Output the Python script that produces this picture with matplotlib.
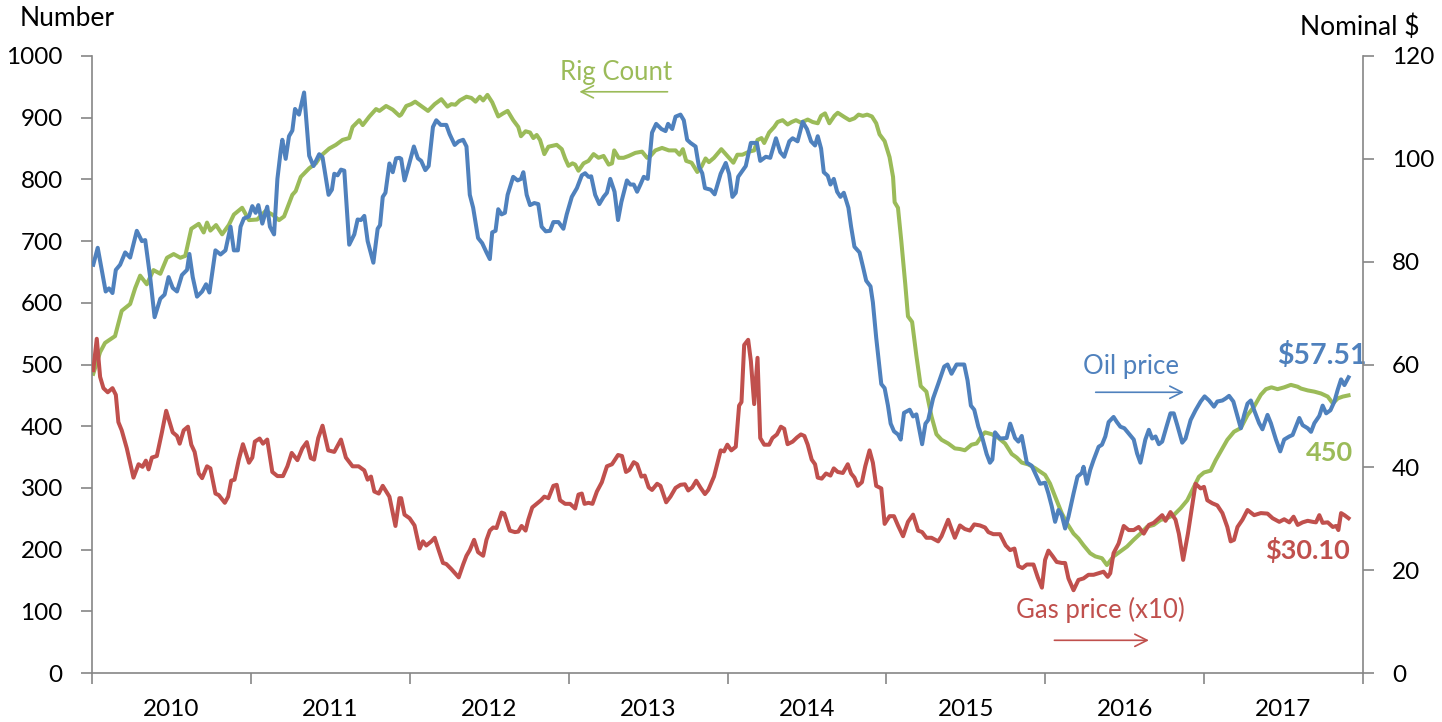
import matplotlib.pyplot as plt
from matplotlib.ticker import MultipleLocator, FixedLocator, NullFormatter

plt.rcParams['font.family'] = ['Lato', 'DejaVu Sans']

# Rig count (left axis, number)
rig_years = [
    2010.008, 2010.051, 2010.082, 2010.145, 2010.187, 2010.240, 2010.272, 2010.303, 2010.345, 2010.387,
    2010.430, 2010.472, 2010.514, 2010.556, 2010.587, 2010.625, 2010.672, 2010.703, 2010.724, 2010.745,
    2010.781, 2010.819, 2010.861, 2010.893, 2010.945, 2010.988, 2011.040, 2011.093, 2011.135, 2011.177,
    2011.209, 2011.230, 2011.261, 2011.282, 2011.314, 2011.367, 2011.409, 2011.440, 2011.493, 2011.535,
    2011.577, 2011.619, 2011.640, 2011.682, 2011.704, 2011.746, 2011.788, 2011.809, 2011.851, 2011.893,
    2011.935, 2011.946, 2011.978, 2012.009, 2012.034, 2012.072, 2012.115, 2012.157, 2012.199, 2012.237,
    2012.262, 2012.287, 2012.315, 2012.357, 2012.388, 2012.414, 2012.441, 2012.462, 2012.489, 2012.519,
    2012.557, 2012.588, 2012.616, 2012.651, 2012.683, 2012.700, 2012.729, 2012.757, 2012.778, 2012.799,
    2012.820, 2012.847, 2012.873, 2012.925, 2012.957, 2012.978, 2012.999, 2013.024, 2013.041, 2013.062,
    2013.094, 2013.125, 2013.157, 2013.188, 2013.220, 2013.252, 2013.273, 2013.287, 2013.315, 2013.346,
    2013.378, 2013.420, 2013.462, 2013.494, 2013.515, 2013.546, 2013.588, 2013.631, 2013.673, 2013.698,
    2013.719, 2013.740, 2013.774, 2013.810, 2013.837, 2013.862, 2013.883, 2013.915, 2013.961, 2013.999,
    2014.037, 2014.062, 2014.094, 2014.136, 2014.168, 2014.189, 2014.214, 2014.231, 2014.262, 2014.294,
    2014.315, 2014.347, 2014.378, 2014.404, 2014.431, 2014.462, 2014.505, 2014.536, 2014.568, 2014.589,
    2014.614, 2014.641, 2014.673, 2014.694, 2014.736, 2014.768, 2014.799, 2014.825, 2014.852, 2014.879,
    2014.909, 2014.936, 2014.957, 2014.989, 2015.020, 2015.042, 2015.052, 2015.073, 2015.094, 2015.119,
    2015.136, 2015.162, 2015.189, 2015.216, 2015.252, 2015.284, 2015.315, 2015.347, 2015.389, 2015.431,
    2015.463, 2015.494, 2015.536, 2015.568, 2015.600, 2015.621, 2015.663, 2015.705, 2015.747, 2015.789,
    2015.821, 2015.852, 2015.894, 2015.936, 2015.999, 2016.030, 2016.062, 2016.104, 2016.136, 2016.178,
    2016.209, 2016.241, 2016.283, 2016.315, 2016.357, 2016.388, 2016.430, 2016.473, 2016.515, 2016.557,
    2016.599, 2016.641, 2016.683, 2016.725, 2016.767, 2016.809, 2016.852, 2016.894, 2016.936, 2016.967,
    2016.999, 2017.041, 2017.073, 2017.104, 2017.146, 2017.188, 2017.231, 2017.273, 2017.315, 2017.357,
    2017.389, 2017.424, 2017.462, 2017.504, 2017.546, 2017.589, 2017.610, 2017.652, 2017.694, 2017.736,
    2017.778, 2017.810, 2017.841, 2017.873, 2017.909,
]
rig_count = [
    485, 520, 535, 546, 587, 598, 624, 644, 630, 653,
    647, 673, 679, 673, 676, 720, 728, 714, 730, 717,
    726, 711, 726, 743, 754, 734, 735, 749, 743, 734,
    740, 754, 775, 781, 804, 818, 826, 838, 850, 856,
    864, 867, 885, 896, 888, 902, 914, 911, 919, 913,
    903, 905, 919, 922, 926, 919, 911, 922, 930, 918,
    922, 921, 928, 934, 932, 926, 934, 928, 937, 925,
    902, 907, 911, 896, 885, 870, 878, 876, 867, 872,
    864, 841, 853, 856, 849, 834, 822, 826, 824, 814,
    826, 830, 841, 835, 838, 824, 826, 847, 835, 835,
    838, 843, 845, 835, 838, 847, 851, 847, 847, 840,
    849, 830, 827, 812, 821, 834, 828, 835, 849, 838,
    827, 840, 840, 845, 847, 864, 867, 859, 876, 885,
    893, 896, 889, 893, 896, 892, 897, 893, 891, 903,
    907, 891, 903, 908, 901, 896, 899, 905, 903, 905,
    902, 891, 873, 862, 836, 804, 763, 754, 700, 630,
    578, 569, 514, 465, 456, 416, 387, 378, 372, 364,
    363, 361, 370, 372, 384, 390, 387, 381, 372, 355,
    349, 341, 338, 332, 321, 307, 286, 259, 243, 226,
    218, 207, 194, 189, 186, 175, 189, 197, 205, 216,
    226, 237, 240, 248, 251, 256, 267, 280, 302, 318,
    325, 328, 345, 359, 378, 391, 397, 418, 432, 451,
    460, 463, 460, 463, 467, 464, 461, 458, 456, 453,
    448, 437, 445, 448, 450,
]

# Oil price (right axis, nominal $)
oil_years = [
    2010.008, 2010.036, 2010.061, 2010.086, 2010.107, 2010.129, 2010.150, 2010.177, 2010.209, 2010.240,
    2010.282, 2010.314, 2010.335, 2010.366, 2010.394, 2010.430, 2010.457, 2010.482, 2010.508, 2010.535,
    2010.566, 2010.598, 2010.613, 2010.634, 2010.661, 2010.693, 2010.718, 2010.739, 2010.777, 2010.809,
    2010.840, 2010.872, 2010.893, 2010.918, 2010.935, 2010.956, 2010.988, 2011.009, 2011.030, 2011.047,
    2011.072, 2011.103, 2011.120, 2011.146, 2011.167, 2011.188, 2011.198, 2011.219, 2011.240, 2011.261,
    2011.278, 2011.303, 2011.335, 2011.367, 2011.394, 2011.430, 2011.451, 2011.489, 2011.510, 2011.525,
    2011.546, 2011.567, 2011.588, 2011.619, 2011.651, 2011.672, 2011.693, 2011.714, 2011.735, 2011.771,
    2011.798, 2011.813, 2011.830, 2011.847, 2011.872, 2011.893, 2011.914, 2011.935,
    2011.946, 2011.967, 2011.992, 2012.026, 2012.051, 2012.072, 2012.098, 2012.119, 2012.146, 2012.167,
    2012.195, 2012.230, 2012.251, 2012.283, 2012.308, 2012.336, 2012.357, 2012.378, 2012.399, 2012.430,
    2012.456, 2012.483, 2012.504, 2012.519, 2012.540, 2012.557, 2012.578, 2012.599, 2012.616, 2012.651,
    2012.679, 2012.700, 2012.715, 2012.736, 2012.757, 2012.784, 2012.809, 2012.830, 2012.856, 2012.883,
    2012.904, 2012.936, 2012.967, 2012.988, 2013.020, 2013.052, 2013.083, 2013.104, 2013.125, 2013.142,
    2013.167, 2013.193, 2013.220, 2013.241, 2013.262, 2013.289, 2013.311, 2013.332, 2013.367, 2013.388,
    2013.410, 2013.431, 2013.452, 2013.473, 2013.498, 2013.525, 2013.551, 2013.584, 2013.610, 2013.626,
    2013.652, 2013.673, 2013.704, 2013.725, 2013.746, 2013.767, 2013.799, 2013.820, 2013.841, 2013.858,
    2013.894, 2013.919,
    2013.957, 2013.989, 2014.010, 2014.031, 2014.052, 2014.067, 2014.094, 2014.115, 2014.147, 2014.185,
    2014.206, 2014.241, 2014.269, 2014.305, 2014.332, 2014.357, 2014.389, 2014.410, 2014.441, 2014.473,
    2014.500, 2014.526, 2014.551, 2014.568, 2014.589, 2014.606, 2014.631, 2014.648, 2014.669, 2014.690,
    2014.711, 2014.732, 2014.761, 2014.778, 2014.799, 2014.831, 2014.852, 2014.873, 2014.900, 2014.915,
    2014.936, 2014.968, 2014.989, 2015.010, 2015.027, 2015.048, 2015.073, 2015.090, 2015.111, 2015.147,
    2015.168, 2015.189, 2015.204, 2015.225, 2015.246, 2015.263, 2015.294, 2015.326, 2015.364, 2015.385,
    2015.410, 2015.442, 2015.490, 2015.511, 2015.532, 2015.553, 2015.579, 2015.604, 2015.631, 2015.652,
    2015.667, 2015.684, 2015.715, 2015.757, 2015.779, 2015.810, 2015.831, 2015.852, 2015.884, 2015.915,
    2015.967, 2015.999, 2016.020, 2016.041, 2016.062, 2016.083, 2016.104, 2016.125, 2016.146, 2016.178,
    2016.203, 2016.230, 2016.241, 2016.262, 2016.283, 2016.304, 2016.336, 2016.357, 2016.378, 2016.399,
    2016.430, 2016.451, 2016.473, 2016.498, 2016.525, 2016.557, 2016.578, 2016.599, 2016.630, 2016.652,
    2016.673, 2016.694, 2016.715, 2016.736, 2016.763, 2016.788, 2016.809, 2016.831, 2016.862, 2016.883,
    2016.915, 2016.946, 2016.978, 2017.003, 2017.031, 2017.062, 2017.083, 2017.115, 2017.136, 2017.157,
    2017.184, 2017.205, 2017.231, 2017.252, 2017.273, 2017.294, 2017.315, 2017.346, 2017.367, 2017.399,
    2017.420, 2017.452, 2017.479, 2017.504, 2017.536, 2017.557, 2017.599, 2017.620, 2017.652, 2017.673,
    2017.694, 2017.725, 2017.746, 2017.768, 2017.795, 2017.820, 2017.841, 2017.862, 2017.883, 2017.909,
]
oil_price = [
    79.4, 82.7, 78.4, 74.2, 74.8, 73.9, 78.4, 79.4, 81.8, 80.8,
    86.0, 84.0, 84.2, 77.0, 69.2, 72.8, 73.6, 77.0, 74.9, 74.2,
    77.4, 78.4, 81.5, 77.0, 73.2, 74.2, 75.6, 74.0, 82.2, 81.4,
    82.2, 86.8, 82.2, 82.2, 86.8, 88.4, 88.8, 90.8, 89.5, 91.0,
    87.4, 90.7, 86.8, 85.3, 96.1, 101.6, 103.7, 100.0, 104.4, 105.5,
    109.7, 108.6, 112.9, 100.6, 98.6, 100.9, 100.3, 93.0, 94.0, 97.1,
    96.8, 97.9, 97.7, 83.3, 85.3, 88.2, 88.1, 88.9, 84.0, 79.8,
    86.4, 87.1, 92.6, 93.4, 99.1, 97.4, 100.1, 100.2,
    100.0, 95.8, 98.5, 102.4, 100.1, 99.6, 97.8, 98.6, 106.2, 107.5,
    106.6, 106.6, 104.8, 102.7, 103.4, 103.7, 102.4, 93.0, 90.5, 84.6,
    83.6, 81.8, 80.5, 85.7, 86.0, 90.2, 89.2, 89.5, 93.0, 96.5,
    95.8, 96.1, 97.4, 93.0, 91.0, 91.4, 91.2, 86.8, 85.9, 86.0,
    87.7, 87.7, 86.4, 89.2, 92.6, 94.3, 96.8, 97.2, 96.5, 96.6,
    93.0, 91.2, 92.6, 93.4, 96.1, 93.6, 88.1, 91.6, 95.8, 95.0,
    95.0, 93.6, 95.0, 96.5, 96.1, 105.1, 106.8, 105.8, 105.4, 106.8,
    105.8, 108.2, 108.6, 107.5, 103.7, 103.1, 102.4, 98.5, 97.2, 94.3,
    94.0, 93.1,
    97.1, 99.2, 97.1, 92.6, 93.4, 96.5, 97.7, 98.6, 103.1, 103.1,
    99.6, 100.4, 100.2, 104.0, 101.3, 100.4, 103.4, 104.0, 103.4, 107.2,
    105.8, 103.4, 102.6, 104.4, 102.0, 97.4, 96.7, 95.0, 96.1, 93.6,
    92.6, 93.4, 90.5, 86.8, 82.9, 81.8, 79.1, 76.3, 75.2, 72.1,
    65.2, 56.2, 55.4, 52.0, 48.5, 47.0, 46.4, 45.4, 50.6, 51.2,
    49.9, 50.3, 47.9, 44.5, 48.5, 49.2, 53.4, 56.2, 59.6, 60.0,
    58.2, 60.0, 60.0, 56.9, 52.0, 51.2, 47.9, 45.7, 42.6, 40.9,
    41.5, 46.8, 45.6, 45.7, 48.5, 45.7, 45.0, 46.1, 40.9, 40.3,
    36.8, 37.0, 34.9, 32.4, 29.4, 31.7, 30.7, 28.1, 30.4, 34.9,
    38.2, 38.9, 40.1, 36.8, 39.5, 41.4, 44.0, 44.4, 46.0, 48.8,
    49.8, 48.8, 47.9, 47.6, 46.6, 45.4, 42.7, 40.9, 45.4, 47.3,
    45.6, 46.0, 44.5, 45.0, 47.9, 50.5, 50.5, 48.2, 44.8, 45.6,
    49.2, 51.1, 52.8, 53.8, 53.0, 51.8, 52.8, 53.0, 53.4, 53.9,
    52.8, 50.5, 47.6, 50.2, 52.4, 53.0, 51.1, 48.6, 47.4, 50.2,
    48.6, 45.4, 43.1, 45.4, 46.0, 46.3, 49.6, 48.2, 47.6, 46.9,
    48.6, 50.0, 52.0, 50.5, 51.1, 52.8, 55.1, 57.1, 56.0, 57.51,
]

# Gas price ($/MMBtu, drawn x10 on the right axis)
gas_years = [
    2010.008, 2010.030, 2010.051, 2010.072, 2010.099, 2010.129, 2010.150, 2010.166, 2010.187, 2010.219,
    2010.261, 2010.293, 2010.318, 2010.339, 2010.356, 2010.377, 2010.408, 2010.440, 2010.467, 2010.508,
    2010.535, 2010.552, 2010.577, 2010.604, 2010.625, 2010.646, 2010.672, 2010.693, 2010.724, 2010.745,
    2010.777, 2010.798, 2010.836, 2010.857, 2010.876, 2010.897, 2010.924, 2010.950, 2010.988, 2011.009,
    2011.025, 2011.055, 2011.076, 2011.103, 2011.135, 2011.167, 2011.202, 2011.230, 2011.257, 2011.293,
    2011.324, 2011.352, 2011.377, 2011.398, 2011.424, 2011.451, 2011.487, 2011.525, 2011.567, 2011.598,
    2011.640, 2011.678, 2011.714, 2011.735, 2011.756, 2011.777, 2011.805, 2011.830, 2011.872, 2011.910,
    2011.935,
    2011.946, 2011.967, 2011.999, 2012.030, 2012.062, 2012.083, 2012.104, 2012.136, 2012.157, 2012.182,
    2012.209, 2012.230, 2012.262, 2012.308, 2012.336, 2012.357, 2012.378, 2012.405, 2012.430, 2012.462,
    2012.483, 2012.504, 2012.525, 2012.546, 2012.578, 2012.595, 2012.630, 2012.662, 2012.683, 2012.704,
    2012.729, 2012.746, 2012.771, 2012.799, 2012.826, 2012.847, 2012.873, 2012.904, 2012.925, 2012.946,
    2012.978, 2013.009, 2013.041, 2013.062, 2013.083, 2013.100, 2013.125, 2013.150, 2013.178, 2013.209,
    2013.241, 2013.273, 2013.311, 2013.336, 2013.361, 2013.382, 2013.410, 2013.431, 2013.458, 2013.479,
    2013.504, 2013.525, 2013.557, 2013.578, 2013.614, 2013.641, 2013.673, 2013.704, 2013.732, 2013.753,
    2013.778, 2013.803, 2013.831, 2013.858, 2013.879, 2013.915,
    2013.957, 2013.978, 2013.999, 2014.024, 2014.052, 2014.073, 2014.088, 2014.105, 2014.130, 2014.147,
    2014.168, 2014.189, 2014.206, 2014.231, 2014.262, 2014.283, 2014.311, 2014.336, 2014.357, 2014.378,
    2014.410, 2014.437, 2014.462, 2014.484, 2014.505, 2014.530, 2014.551, 2014.568, 2014.593, 2014.620,
    2014.648, 2014.669, 2014.694, 2014.726, 2014.757, 2014.778, 2014.799, 2014.820, 2014.846, 2014.867,
    2014.894, 2014.915, 2014.936, 2014.968, 2014.989, 2015.020, 2015.048, 2015.073, 2015.105, 2015.136,
    2015.168, 2015.200, 2015.225, 2015.252, 2015.284, 2015.326, 2015.347, 2015.389, 2015.410, 2015.431,
    2015.463, 2015.494, 2015.526, 2015.553, 2015.589, 2015.621, 2015.642, 2015.673, 2015.715, 2015.751,
    2015.779, 2015.806, 2015.831, 2015.856, 2015.884, 2015.926, 2015.953, 2015.979,
    2015.999, 2016.020, 2016.047, 2016.072, 2016.104, 2016.125, 2016.146, 2016.178, 2016.209, 2016.241,
    2016.272, 2016.304, 2016.336, 2016.367, 2016.393, 2016.409, 2016.430, 2016.462, 2016.494, 2016.525,
    2016.557, 2016.588, 2016.620, 2016.652, 2016.683, 2016.715, 2016.736, 2016.757, 2016.788, 2016.820,
    2016.841, 2016.868, 2016.898, 2016.925, 2016.946, 2016.978, 2016.999, 2017.020, 2017.052, 2017.083,
    2017.115, 2017.146, 2017.167, 2017.188, 2017.210, 2017.241, 2017.273, 2017.315, 2017.357, 2017.399,
    2017.431, 2017.473, 2017.504, 2017.536, 2017.563, 2017.589, 2017.620, 2017.652, 2017.683, 2017.704,
    2017.725, 2017.746, 2017.778, 2017.810, 2017.831, 2017.845, 2017.862, 2017.883, 2017.909,
]
gas_price = [
    5.89, 6.50, 5.76, 5.54, 5.46, 5.54, 5.41, 4.88, 4.72, 4.37,
    3.80, 4.06, 4.01, 4.13, 3.96, 4.19, 4.22, 4.68, 5.10, 4.68,
    4.61, 4.46, 4.72, 4.79, 4.44, 4.30, 3.88, 3.79, 4.02, 3.98,
    3.49, 3.46, 3.31, 3.43, 3.74, 3.76, 4.15, 4.45, 4.09, 4.19,
    4.50, 4.56, 4.46, 4.54, 3.91, 3.83, 3.83, 4.02, 4.28, 4.14,
    4.37, 4.49, 4.18, 4.15, 4.57, 4.81, 4.33, 4.30, 4.54, 4.19,
    4.02, 4.02, 3.94, 3.76, 3.82, 3.53, 3.49, 3.64, 3.43, 2.86,
    3.40,
    3.40, 3.08, 3.01, 2.87, 2.42, 2.56, 2.48, 2.56, 2.63, 2.39,
    2.14, 2.12, 2.02, 1.86, 2.11, 2.28, 2.39, 2.59, 2.35, 2.28,
    2.59, 2.77, 2.83, 2.82, 3.12, 3.10, 2.77, 2.74, 2.75, 2.86,
    2.77, 2.98, 3.22, 3.29, 3.36, 3.43, 3.40, 3.64, 3.66, 3.36,
    3.29, 3.29, 3.20, 3.47, 3.49, 3.29, 3.31, 3.29, 3.53, 3.71,
    4.02, 4.06, 4.24, 4.22, 3.91, 3.95, 4.10, 4.06, 3.82, 3.84,
    3.61, 3.56, 3.68, 3.64, 3.32, 3.43, 3.60, 3.66, 3.67, 3.55,
    3.61, 3.74, 3.60, 3.48, 3.56, 3.82,
    4.33, 4.31, 4.44, 4.33, 4.40, 5.20, 5.27, 6.38, 6.48, 6.07,
    5.23, 6.13, 4.57, 4.44, 4.44, 4.57, 4.64, 4.79, 4.75, 4.45,
    4.50, 4.58, 4.64, 4.61, 4.44, 4.15, 4.06, 3.80, 3.78, 3.88,
    3.84, 3.98, 3.91, 3.89, 4.06, 3.88, 3.80, 3.64, 3.71, 4.02,
    4.33, 4.09, 3.64, 3.59, 2.90, 3.05, 3.05, 2.87, 2.66, 2.94,
    3.08, 2.77, 2.74, 2.63, 2.63, 2.56, 2.66, 2.98, 2.80, 2.63,
    2.87, 2.80, 2.77, 2.89, 2.87, 2.83, 2.74, 2.70, 2.70, 2.48,
    2.39, 2.42, 2.08, 2.04, 2.11, 2.11, 1.86, 1.66,
    2.20, 2.38, 2.27, 2.16, 2.14, 2.14, 1.84, 1.61, 1.81, 1.84,
    1.91, 1.91, 1.94, 1.97, 1.87, 1.94, 2.33, 2.52, 2.86, 2.78,
    2.78, 2.84, 2.71, 2.88, 2.92, 3.01, 3.07, 2.96, 3.13, 2.98,
    2.71, 2.20, 2.71, 3.26, 3.68, 3.59, 3.62, 3.36, 3.30, 3.26,
    3.11, 2.84, 2.56, 2.59, 2.84, 2.98, 3.17, 3.07, 3.11, 3.10,
    3.01, 2.94, 2.99, 2.93, 3.04, 2.88, 2.93, 2.96, 2.94, 2.93,
    3.07, 2.92, 2.93, 2.84, 2.86, 2.78, 3.11, 3.07, 3.01,
]

year_labels = ['2010', '2011', '2012', '2013', '2014', '2015', '2016', '2017']

BLUE = '#4F81BD'
RED = '#C0504D'
GREEN = '#9BBB59'
AXIS = '#868686'

fig = plt.figure(figsize=(14.42, 7.22), dpi=100)
ax = fig.add_axes([92 / 1442, 1 - 673 / 722, (1363 - 92) / 1442, (673 - 56) / 722])
ax2 = ax.twinx()

ax.plot(rig_years, rig_count, color=GREEN, lw=2.9, solid_joinstyle='round')
ax2.plot(gas_years, [g * 10 for g in gas_price], color=RED, lw=2.9, solid_joinstyle='round')
ax2.plot(oil_years, oil_price, color=BLUE, lw=2.9, solid_joinstyle='round')

ax.set_xlim(2010, 2018)
ax.set_ylim(0, 1000)
ax2.set_ylim(0, 120)
ax.yaxis.set_major_locator(MultipleLocator(100))
ax2.yaxis.set_major_locator(MultipleLocator(20))

ax.xaxis.set_major_locator(FixedLocator(range(2010, 2019)))
ax.xaxis.set_major_formatter(NullFormatter())
ax.xaxis.set_minor_locator(FixedLocator([y + 0.5 for y in range(2010, 2018)]))
ax.set_xticklabels(year_labels, minor=True)

for a in (ax, ax2):
    for s in a.spines.values():
        s.set_color(AXIS)
        s.set_linewidth(1.2)
    a.spines['top'].set_visible(False)
ax.spines['right'].set_visible(False)
ax2.spines['left'].set_visible(False)
ax2.spines['bottom'].set_visible(False)

ax.tick_params(axis='y', which='major', direction='out', length=8, width=1.2, color=AXIS,
               labelsize=17.5, pad=13)
ax2.tick_params(axis='y', which='major', direction='out', length=8, width=1.2, color=AXIS,
                labelsize=17.5, pad=13)
ax.tick_params(axis='x', which='major', direction='out', length=8, width=1.2, color=AXIS)
ax.tick_params(axis='x', which='minor', length=0, labelsize=17.5, pad=19)

fig.text(20 / 1442, 1 - 18 / 722, 'Number', fontsize=19, ha='left', va='center')
fig.text(1420 / 1442, 1 - 27 / 722, 'Nominal $', fontsize=19, ha='right', va='center')

# Series annotations
ax.text(2013.30, 974, 'Rig Count', color=GREEN, fontsize=18.5, ha='center', va='center')
ax.annotate('', xy=(2013.05, 942), xytext=(2013.64, 942),
            arrowprops=dict(arrowstyle='->', color=GREEN, lw=1.2, mutation_scale=22))
ax.text(2016.54, 496, 'Oil price', color=BLUE, fontsize=18.5, ha='center', va='center')
ax.annotate('', xy=(2016.89, 455), xytext=(2016.30, 455),
            arrowprops=dict(arrowstyle='->', color=BLUE, lw=1.2, mutation_scale=22))
ax.text(2016.35, 102, 'Gas price (x10)', color=RED, fontsize=18.5, ha='center', va='center')
ax.annotate('', xy=(2016.67, 53), xytext=(2016.04, 53),
            arrowprops=dict(arrowstyle='->', color=RED, lw=1.2, mutation_scale=22))

ax.text(2017.74, 515, f'${oil_price[-1]:.2f}', color=BLUE, fontsize=20.5, fontweight='bold',
        ha='center', va='center')
ax.text(2017.79, 357, f'{rig_count[-1]}', color=GREEN, fontsize=19.5, fontweight='bold',
        ha='center', va='center')
ax.text(2017.65, 199, f'${gas_price[-1] * 10:.2f}', color=RED, fontsize=19.5, fontweight='bold',
        ha='center', va='center')

fig.savefig('out.png', dpi=100)
